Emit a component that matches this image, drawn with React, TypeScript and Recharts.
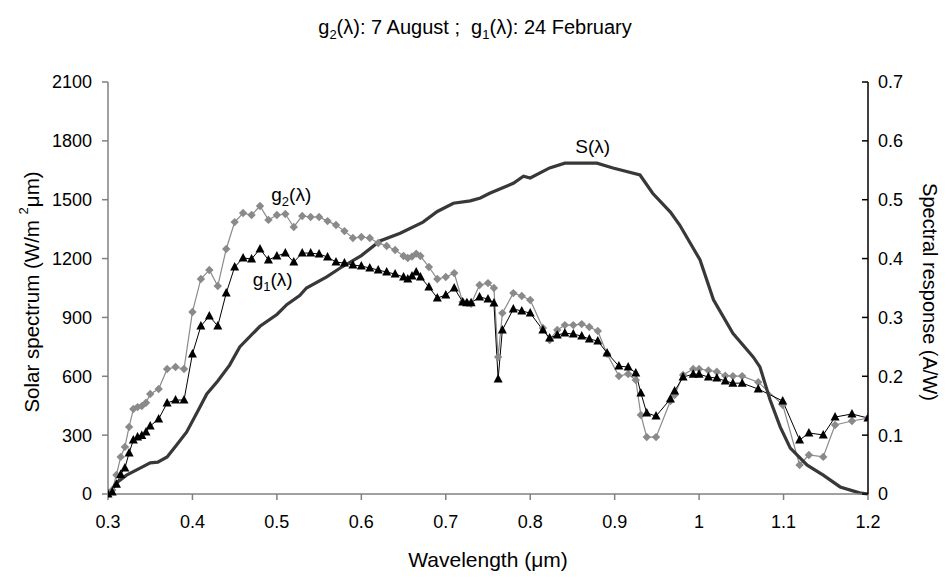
import React from 'react';
import { LineChart, Line, XAxis, YAxis, ReferenceDot } from 'recharts';

// wavelength (µm) shared by the two measured spectra
const wavelength = [
  0.3, 0.305, 0.31, 0.315, 0.32, 0.325, 0.33, 0.335, 0.34, 0.345, 0.35, 0.36, 0.37, 0.38, 0.39,
  0.4, 0.41, 0.42, 0.43, 0.44, 0.45, 0.46, 0.47, 0.48, 0.49, 0.5, 0.51, 0.52, 0.53, 0.54, 0.55,
  0.56, 0.57, 0.58, 0.59, 0.6, 0.61, 0.62, 0.63, 0.64, 0.65, 0.655, 0.66, 0.665, 0.67, 0.68,
  0.69, 0.7, 0.71, 0.72, 0.725, 0.73, 0.74, 0.75, 0.757, 0.762, 0.767, 0.78, 0.79, 0.8, 0.815,
  0.823, 0.832, 0.841, 0.851, 0.861, 0.87, 0.88, 0.891, 0.905, 0.916, 0.925, 0.931, 0.938,
  0.949, 0.966, 0.971, 0.981, 0.993, 1.0, 1.011, 1.021, 1.031, 1.04, 1.051, 1.07, 1.099,
  1.119, 1.13, 1.147, 1.161, 1.181, 1.2,
];

// g2: 7 August (W/m2µm)
const g2Values = [
  5, 20, 97, 189, 240, 342, 433, 443, 448, 465, 510, 535, 637, 647, 637,
  928, 1096, 1142, 1060, 1249, 1386, 1432, 1422, 1468, 1397, 1422, 1427, 1361, 1417, 1412, 1412,
  1391, 1371, 1340, 1305, 1310, 1305, 1279, 1264, 1244, 1213, 1203, 1210, 1225, 1213, 1157,
  1096, 1106, 1126, 979, 975, 970, 1065, 1075, 1050, 698, 922, 1024, 1009, 989, 846,
  785, 836, 861, 861, 866, 851, 831, 714, 601, 612, 581, 403, 290,
  290, 474, 504, 607, 637, 637, 630, 623, 603, 601, 601, 570, 454,
  148, 199, 189, 352, 372, 387,
];

// g1: 24 February (W/m2µm)
const g1Values = [
  0, 10, 50, 100, 133, 209, 275, 290, 298, 316, 347, 382, 464, 479, 479,
  714, 856, 907, 856, 1024, 1157, 1203, 1198, 1249, 1193, 1213, 1228, 1182, 1228, 1228, 1223,
  1208, 1182, 1177, 1167, 1162, 1152, 1142, 1131, 1121, 1106, 1096, 1111, 1131, 1106, 1055,
  999, 1014, 1050, 979, 975, 975, 1004, 994, 973, 586, 836, 943, 933, 922, 836,
  795, 810, 820, 815, 805, 790, 780, 719, 652, 647, 617, 515, 413,
  397, 484, 525, 596, 611, 611, 596, 591, 576, 565, 565, 535, 474,
  275, 311, 301, 392, 408, 387,
];

// spectral response S (A/W)
const sWavelength = [
  0.3, 0.311, 0.322, 0.338, 0.35, 0.359, 0.37, 0.381, 0.393, 0.405, 0.417, 0.43, 0.444, 0.456,
  0.48, 0.5, 0.512, 0.527, 0.535, 0.559, 0.575, 0.6, 0.622, 0.646, 0.673, 0.69, 0.709, 0.729,
  0.741, 0.752, 0.78, 0.792, 0.8, 0.823, 0.841, 0.879, 0.898, 0.93, 0.945, 0.966, 0.977, 1.001,
  1.017, 1.04, 1.064, 1.072, 1.084, 1.096, 1.108, 1.128, 1.147, 1.167, 1.19, 1.2,
];
const sValues = [
  0, 0.02, 0.032, 0.044, 0.053, 0.054, 0.063, 0.083, 0.105, 0.137, 0.17, 0.192, 0.219, 0.25,
  0.285, 0.305, 0.322, 0.337, 0.35, 0.369, 0.384, 0.405, 0.43, 0.443, 0.462, 0.48, 0.494, 0.498,
  0.503, 0.511, 0.528, 0.54, 0.537, 0.554, 0.562, 0.562, 0.554, 0.542, 0.511, 0.479, 0.457, 0.398,
  0.33, 0.273, 0.233, 0.216, 0.16, 0.114, 0.078, 0.049, 0.032, 0.012, 0.002, 0,
];

const xTicks = [0.3, 0.4, 0.5, 0.6, 0.7, 0.8, 0.9, 1.0, 1.1, 1.2];
const leftTicks = [0, 300, 600, 900, 1200, 1500, 1800, 2100];
const rightTicks = [0, 0.1, 0.2, 0.3, 0.4, 0.5, 0.6, 0.7];

const g2Data = wavelength.map((x, i) => ({ x, y: g2Values[i] }));
const g1Data = wavelength.map((x, i) => ({ x, y: g1Values[i] }));
const sData = sWavelength.map((x, i) => ({ x, s: sValues[i] }));

const FONT = '"Liberation Sans", Arial, sans-serif';
const fmt = (v: number) => String(Math.round(v * 10) / 10);

const Diamond = (props: any) => {
  const { cx, cy, index } = props;
  if (cx == null || cy == null) return <g key={index} />;
  const r = 4.2;
  return (
    <polygon
      key={index}
      points={`${cx},${cy - r} ${cx + r},${cy} ${cx},${cy + r} ${cx - r},${cy}`}
      fill="#8a8a8a"
    />
  );
};

const Triangle = (props: any) => {
  const { cx, cy, index } = props;
  if (cx == null || cy == null) return <g key={index} />;
  return (
    <polygon
      key={index}
      points={`${cx},${cy - 5} ${cx + 4.5},${cy + 3.5} ${cx - 4.5},${cy + 3.5}`}
      fill="#000"
    />
  );
};

const seriesLabel = (base: string, sub: string | null, rest: string) => (props: any) => {
  const { viewBox } = props;
  return (
    <text x={viewBox.x} y={viewBox.y} textAnchor="middle" fontSize={19} fontFamily={FONT} fill="#000">
      {base}
      {sub ? (
        <>
          <tspan dy={5} fontSize={13}>{sub}</tspan>
          <tspan dy={-5}>{rest}</tspan>
        </>
      ) : (
        <tspan>{rest}</tspan>
      )}
    </text>
  );
};

export default function App() {
  return (
    <div style={{ position: 'absolute', left: 0, top: 0, width: 950, height: 580, background: '#fff', fontFamily: FONT }}>
      <div style={{ position: 'absolute', top: 16, width: 950, textAlign: 'center', fontSize: 20, color: '#000' }}>
        g<sub style={{ fontSize: 13 }}>2</sub>(λ): 7 August ;&nbsp; g<sub style={{ fontSize: 13 }}>1</sub>(λ): 24 February
      </div>
      <LineChart width={950} height={580} margin={{ top: 82, right: 22, bottom: 6, left: 18 }}>
        <XAxis
          dataKey="x"
          type="number"
          domain={[0.3, 1.2]}
          ticks={xTicks}
          tickFormatter={fmt}
          allowDataOverflow
          height={80}
          tickSize={6}
          tickMargin={15}
          stroke="#808080"
          strokeWidth={1.5}
          tick={{ fill: '#000', fontSize: 18, fontFamily: FONT }}
          label={(p: any) => (
            <text x={p.viewBox.x + p.viewBox.width / 2} y={567} textAnchor="middle" fontSize={21} fontFamily={FONT} fill="#000">
              Wavelength (μm)
            </text>
          )}
        />
        <YAxis
          yAxisId="left"
          domain={[0, 2100]}
          ticks={leftTicks}
          width={90}
          tickSize={6}
          tickMargin={10}
          stroke="#808080"
          strokeWidth={1.5}
          tick={{ fill: '#000', fontSize: 18, fontFamily: FONT }}
          label={(p: any) => (
            <text
              transform={`translate(31, ${p.viewBox.y + p.viewBox.height / 2 + 4}) rotate(-90)`}
              textAnchor="middle"
              dominantBaseline="central"
              fontSize={20.5}
              fontFamily={FONT}
              fill="#000"
            >
              Solar spectrum (W/m <tspan dy={-8} fontSize={13}>2</tspan><tspan dy={8}>μm)</tspan>
            </text>
          )}
        />
        <YAxis
          yAxisId="right"
          orientation="right"
          domain={[0, 0.7]}
          ticks={rightTicks}
          tickFormatter={fmt}
          width={60}
          tickSize={-6}
          tickMargin={16}
          stroke="#000"
          strokeWidth={1.5}
          tick={{ fill: '#000', fontSize: 18, fontFamily: FONT }}
          label={(p: any) => (
            <text
              transform={`translate(930, ${p.viewBox.y + p.viewBox.height / 2 + 4}) rotate(90)`}
              textAnchor="middle"
              dominantBaseline="central"
              fontSize={20}
              fontFamily={FONT}
              fill="#000"
            >
              Spectral response (A/W)
            </text>
          )}
        />
        <Line
          yAxisId="left"
          data={g2Data}
          dataKey="y"
          type="linear"
          stroke="#8a8a8a"
          strokeWidth={1.2}
          dot={Diamond}
          isAnimationActive={false}
        />
        <Line
          yAxisId="left"
          data={g1Data}
          dataKey="y"
          type="linear"
          stroke="#000"
          strokeWidth={1}
          dot={Triangle}
          isAnimationActive={false}
        />
        <Line
          yAxisId="right"
          data={sData}
          dataKey="s"
          type="linear"
          stroke="#383838"
          strokeWidth={3.2}
          dot={false}
          isAnimationActive={false}
        />
        <ReferenceDot yAxisId="left" x={0.517} y={1495} r={0} fill="none" stroke="none" label={seriesLabel('g', '2', '(λ)')} />
        <ReferenceDot yAxisId="left" x={0.495} y={1060} r={0} fill="none" stroke="none" label={seriesLabel('g', '1', '(λ)')} />
        <ReferenceDot yAxisId="right" x={0.874} y={0.58} r={0} fill="none" stroke="none" label={seriesLabel('S', null, '(λ)')} />
      </LineChart>
    </div>
  );
}
